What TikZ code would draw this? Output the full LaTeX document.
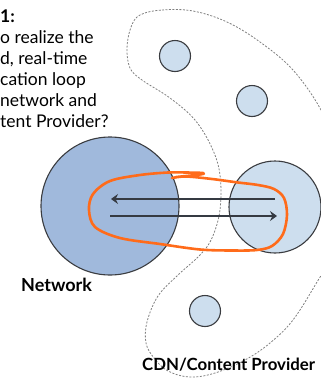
\documentclass[tikz,border=0pt]{standalone}
\usepackage{fontspec}
\setmainfont{Lato}
\usetikzlibrary{arrows.meta,calc}
\definecolor{netblue}{HTML}{A0B9DC}
\definecolor{cdnblue}{HTML}{CDDEEE}
\definecolor{rim}{HTML}{3A3C40}
\definecolor{flowgray}{HTML}{353A42}
\definecolor{loopred}{HTML}{FF6B1A}
\definecolor{zonegray}{HTML}{808080}
\begin{document}
\begin{tikzpicture}[x=1pt,y=-1pt,
  disc/.style={circle,draw=rim,line width=1.1pt,inner sep=0pt},
  netdisc/.style={disc,fill=netblue},
  cdndisc/.style={disc,fill=cdnblue},
  flow/.style={draw=flowgray,line width=2.4pt,-{Stealth[length=7pt,width=10pt,inset=2.5pt]}},
  zone/.style={draw=zonegray,line width=0.8pt,dash pattern=on 2pt off 1.5pt},
  loopline/.style={draw=loopred,line width=2.6pt,line cap=round,line join=round},
  qtext/.style={anchor=base west,inner sep=0pt,font=\fontsize{17.5}{21}\selectfont},
  label/.style={anchor=base west,inner sep=0pt,font=\fontsize{18}{21}\selectfont\bfseries}]
\useasboundingbox (0,0) rectangle (321,381);

% provider zone (dashed outline)
\begin{scope}
  \clip (0,0) rectangle (321,381);
  \draw[zone] plot[smooth cycle,tension=0.6] coordinates {
    (140,15) (162,10) (193,11) (227,22) (260,42) (293,70) (321,110)
    (336,150) (340,210) (332,255) (317,282) (293,320) (270,343) (245,360)
    (215,373) (190,377) (168,371) (154,358) (146,343) (147,322) (158,296)
    (178,275) (200,255) (212,238) (220,210) (220,175) (212,148) (195,120)
    (170,98) (142,80) (130,68) (127,48) (131,27)};
\end{scope}

% question text
\node[qtext,font=\fontsize{17.5}{21}\selectfont\bfseries] (q1) at (0,22) {1:};
\node[qtext] (q2) at (0,43) {o realize the};
\node[qtext] (q3) at (0,64) {d, real-time};
\node[qtext] (q4) at (0,85) {cation loop};
\node[qtext] (q5) at (0,106) {network and};
\node[qtext] (q6) at (0,127) {tent Provider?};

% network and provider nodes
\node[netdisc,minimum size=138pt] (net) at (110,206) {};
\node[cdndisc,minimum size=92pt] (cdn) at (275,207) {};
\node[cdndisc,minimum size=31pt] (p1) at (175,56) {};
\node[cdndisc,minimum size=31pt] (p2) at (252,101) {};
\node[cdndisc,minimum size=31pt] (p3) at (205,311) {};

% control loop between network and provider
\draw[flow] ($(cdn.center)+(0,-8)$) -- ($(net.center)+(1,-7)$);
\draw[flow] ($(net.center)+(0,10)$) -- ($(cdn.center)+(2,9)$);

% hand-drawn highlight
\draw[loopline] plot[smooth,tension=0.55] coordinates {
  (176,177) (200,174.5) (203,173) (186,172.5) (168,172.5) (140,175)
  (110,181) (93,194) (89,210) (95,227) (120,238) (160,244) (200,249.5)
  (232,250.5) (257,250) (272,246) (283,234) (287,215) (284,198) (274,189)
  (258,185) (238,182.5) (212,179) (186,176.5) (172,178)};

% labels
\node[label] (netlabel) at (21,291) {Network};
\node[label,font=\fontsize{16.8}{21}\selectfont\bfseries] (cdnlabel) at (142,370) {CDN/Content Provider};
\end{tikzpicture}
\end{document}
